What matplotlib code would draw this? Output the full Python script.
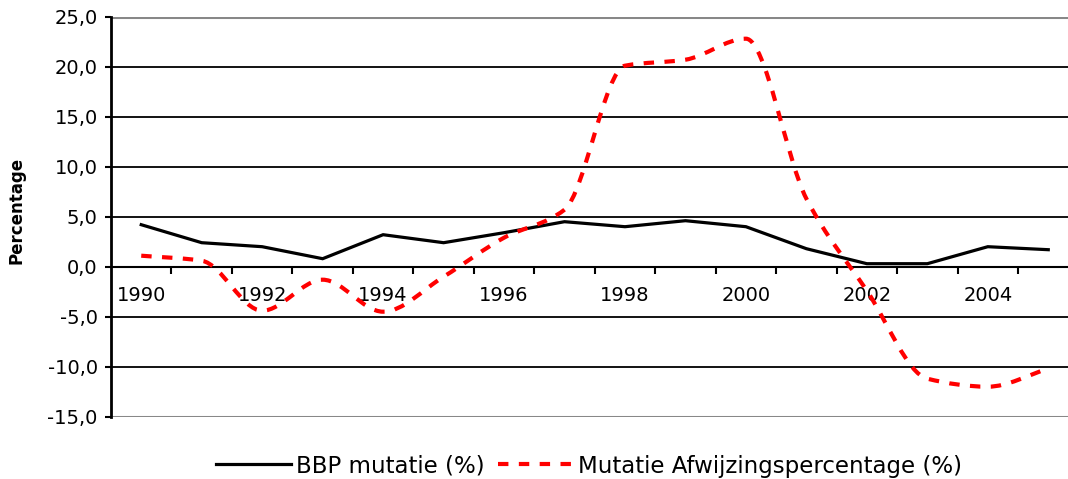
import numpy as np
import matplotlib.pyplot as plt
from matplotlib.path import Path
from matplotlib.patches import PathPatch
from matplotlib.lines import Line2D

# Data
years = list(range(1990, 2006))
bbp_mutatie = [4.2, 2.4, 2.0, 0.8, 3.2, 2.4, 3.4, 4.5, 4.0, 4.6, 4.0, 1.8, 0.3, 0.3, 2.0, 1.7]
afwijzing_mutatie = [1.1, 0.6, -4.4, -1.3, -4.5, -1.0, 2.9, 5.7, 20.1, 20.7, 22.8, 6.8, -2.4, -11.2, -12.0, -10.2]
year_labels = [str(y) for y in years[::2]]
y_ticks = [-15, -10, -5, 0, 5, 10, 15, 20, 25]


def smooth_path(x, y):
    """Smoothed line through the points: cubic hermite (monotone tangents) as bezier."""
    x = np.asarray(x, dtype=float)
    y = np.asarray(y, dtype=float)
    h = np.diff(x)
    s = np.diff(y) / h
    n = len(x)
    m = np.zeros(n)
    for i in range(1, n - 1):
        if s[i - 1] * s[i] > 0:
            m[i] = 2 * s[i - 1] * s[i] / (s[i - 1] + s[i])
    m[0] = s[0]
    m[-1] = s[-1]

    verts = [(x[0], y[0])]
    codes = [Path.MOVETO]
    for i in range(n - 1):
        c1 = (x[i] + h[i] / 3, y[i] + m[i] * h[i] / 3)
        c2 = (x[i + 1] - h[i] / 3, y[i + 1] - m[i + 1] * h[i] / 3)
        verts += [c1, c2, (x[i + 1], y[i + 1])]
        codes += [Path.CURVE4] * 3
    return Path(verts, codes)


fig = plt.figure(figsize=(10.68, 4.79), dpi=100)
# plot area runs past the right edge of the picture, as in the original
ax = fig.add_axes([111 / 1068, (479 - 416.7) / 479, 967.5 / 1068, 400 / 479])

x = np.arange(len(years))

# Horizontal gridlines (outer ones are the grey plot-area border)
for v in y_ticks:
    if v in (-15, 25):
        ax.axhline(v, color='#888888', lw=2.2, zorder=1)
    else:
        ax.axhline(v, color='black', lw=1.3, zorder=1)

ax.plot(x, bbp_mutatie, color='black', lw=2.3, solid_joinstyle='miter', zorder=3,
        label='BBP mutatie (%)')

red_path = smooth_path(x, afwijzing_mutatie)
ax.add_patch(PathPatch(red_path, fill=False, edgecolor='red', lw=3,
                       linestyle=(0, (2.5, 2.5)), capstyle='butt', zorder=4))

ax.set_xlim(-0.5, 15.5)
ax.set_ylim(-15, 25)

# Spines: left axis and category axis crossing at 0
ax.spines['top'].set_visible(False)
ax.spines['right'].set_visible(False)
ax.spines['left'].set_linewidth(2)
ax.spines['left'].set_color('black')
ax.spines['bottom'].set_position(('data', 0))
ax.spines['bottom'].set_linewidth(1.5)
ax.spines['bottom'].set_zorder(2)

ax.set_yticks(y_ticks)
ax.set_yticklabels([f"{v:.1f}".replace('.', ',') for v in y_ticks])
ax.tick_params(axis='y', length=4.5, width=1.5, pad=5, labelsize=14, colors='black')

ax.set_xticks(x[::2])
ax.set_xticklabels(year_labels)
ax.set_xticks(x[:-1] + 0.5, minor=True)
ax.tick_params(axis='x', which='major', length=0, pad=14, labelsize=14)
ax.tick_params(axis='x', which='minor', length=5, width=1.5, direction='out')

fig.text(17 / 1068, 1 - 210.5 / 479, 'Percentage', rotation=90, fontsize=12,
         fontweight='bold', ha='center', va='center')

handles = [Line2D([0], [0], color='black', lw=2.3),
           Line2D([0], [0], color='red', lw=3, linestyle=(0, (2.5, 2.5)))]
fig.legend(handles, ['BBP mutatie (%)', 'Mutatie Afwijzingspercentage (%)'],
           loc='center', bbox_to_anchor=(589 / 1068, 1 - 466 / 479), ncol=2,
           frameon=False, fontsize=16.5, handlelength=3.3, handletextpad=0.22,
           columnspacing=0.55)

fig.savefig('out.png', dpi=100)
